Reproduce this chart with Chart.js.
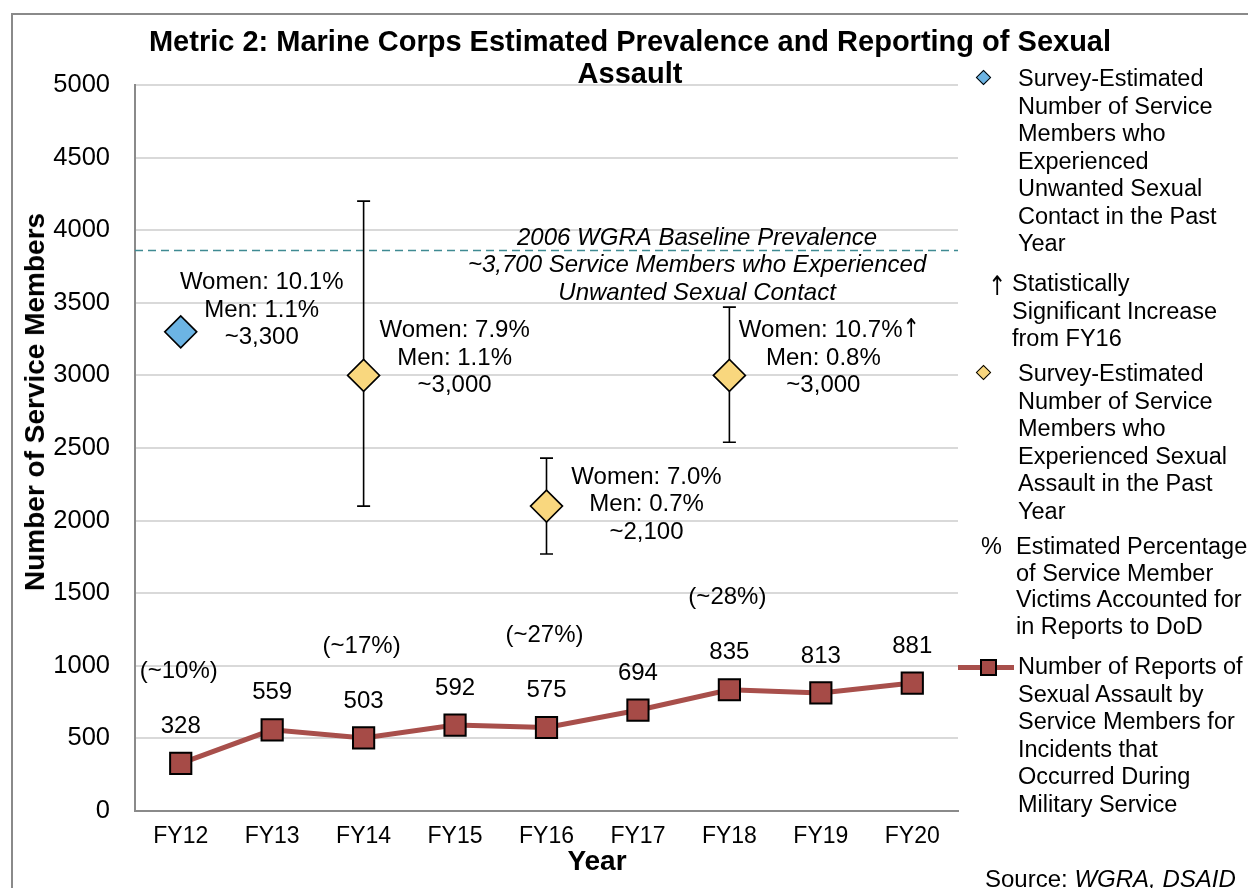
<!DOCTYPE html>
<html>
<head>
<meta charset="utf-8">
<script src="https://cdn.jsdelivr.net/npm/chart.js@4.4.1/dist/chart.umd.min.js"></script>
<style>
  html, body { margin: 0; padding: 0; background: #fff; }
  body { width: 1248px; height: 888px; overflow: hidden; position: relative; font-family: "Liberation Sans", Arial, sans-serif; color: #000; }
  #frame { position: absolute; left: 11px; top: 13px; width: 1400px; height: 1000px; border: 2px solid #8a8a8a; box-sizing: border-box; }
  #wrap { position: absolute; left: 0; top: 0; width: 1248px; height: 888px; }
  .t { position: absolute; white-space: nowrap; }
  #title { left: 0; width: 1260px; top: 25px; text-align: center; font-weight: bold; font-size: 29px; line-height: 32px; }
  #ytitle { left: 35px; top: 402px; transform: translate(-50%, -50%) rotate(-90deg); font-weight: bold; font-size: 28px; }
  #xtitle { left: 597px; top: 861px; transform: translate(-50%, -50%); font-weight: bold; font-size: 28px; }
  .leg { position: absolute; font-size: 23.5px; line-height: 27.5px; white-space: nowrap; }
  .arr { position: absolute; font-family: "DejaVu Sans", sans-serif; font-size: 27px; line-height: 27.5px; transform: scaleX(0.8); }
  .dia { position: absolute; width: 9px; height: 9px; border: 1.5px solid #000; transform: rotate(45deg); }
  #source { left: 985px; top: 865px; font-size: 24px; }
</style>
</head>
<body>
<div id="frame"></div>
<div id="wrap"><canvas id="c" width="1248" height="888"></canvas></div>

<div class="t" id="title">Metric 2: Marine Corps Estimated Prevalence and Reporting of Sexual<br>Assault</div>
<div class="t" id="ytitle">Number of Service Members</div>
<div class="t" id="xtitle">Year</div>

<div class="dia" style="left:978px; top:72px; background:#6CB4E4;"></div>
<div class="leg" style="left:1018px; top:65px;">Survey-Estimated<br>Number of Service<br>Members who<br>Experienced<br>Unwanted Sexual<br>Contact in the Past<br>Year</div>

<div class="arr" style="left:986px; top:272px;">↑</div>
<div class="leg" style="left:1012px; top:270px;">Statistically<br>Significant Increase<br>from FY16</div>

<div class="dia" style="left:978px; top:367px; background:#F9D77E;"></div>
<div class="leg" style="left:1018px; top:360px;">Survey-Estimated<br>Number of Service<br>Members who<br>Experienced Sexual<br>Assault in the Past<br>Year</div>

<div class="leg" style="left:981px; top:533px;">%</div>
<div class="leg" style="left:1016px; top:533px; line-height:26.7px;">Estimated Percentage<br>of Service Member<br>Victims Accounted for<br>in Reports to DoD</div>

<div style="position:absolute; left:958px; top:665px; width:56px; height:5px; background:#A84F4B;"></div>
<div style="position:absolute; left:980px; top:659px; width:13px; height:13px; background:#A64B47; border:2px solid #000; box-sizing:content-box;"></div>
<div class="leg" style="left:1018px; top:653px;">Number of Reports of<br>Sexual Assault by<br>Service Members for<br>Incidents that<br>Occurred During<br>Military Service</div>

<div class="t" id="source">Source: <i>WGRA, DSAID</i></div>

<script>
// ---- data ----
const years = ['FY12','FY13','FY14','FY15','FY16','FY17','FY18','FY19','FY20'];
const reports = [328, 559, 503, 592, 575, 694, 835, 813, 881];
const contactEstimate = [3300, null, null, null, null, null, null, null, null];
const assaultEstimate = [null, null, 3000, null, 2100, null, 3000, null, null];
const assaultLow  = [null, null, 2100, null, 1770, null, 2540, null, null];
const assaultHigh = [null, null, 4200, null, 2430, null, 3470, null, null];
const pctLabels = ['(~10%)', null, '(~17%)', null, '(~27%)', null, '(~28%)', null, null];
const surveyNotes = [
  ['Women: 10.1%', 'Men: 1.1%', '~3,300'], null,
  ['Women: 7.9%', 'Men: 1.1%', '~3,000'], null,
  ['Women: 7.0%', 'Men: 0.7%', '~2,100'], null,
  ['Women: 10.7%\u2191', 'Men: 0.8%', '~3,000'], null, null
];
const baselineValue = 3860;
const baselineText = ['2006 WGRA Baseline Prevalence', '~3,700 Service Members who Experienced', 'Unwanted Sexual Contact'];
const yTicksMax = 5000, yStep = 500;

// ---- styling offsets for annotation placement (px relative to points) ----
const noteOffsets = {0: [81, -49], 2: [91, -45], 4: [100, -29], 6: [94, -45]};
const FONT = '"Liberation Sans", Arial, sans-serif';
const ARROW = '\u2191';

function drawMixed(ctx, text, cx, cy, shiftArrowLine) {
  if (text.indexOf(ARROW) < 0) { ctx.fillText(text, cx, cy); return; }
  const parts = text.split(ARROW);
  const base = ctx.font;
  const arrowFont = '26px "DejaVu Sans", sans-serif';
  const w1 = ctx.measureText(parts[0]).width;
  ctx.font = arrowFont;
  const wa = ctx.measureText(ARROW).width * 0.8;
  ctx.font = base;
  const left = cx + 6 - (w1 + wa) / 2;
  ctx.textAlign = 'left';
  ctx.fillText(parts[0], left, cy);
  ctx.font = arrowFont;
  ctx.save();
  ctx.translate(left + w1, cy);
  ctx.scale(0.8, 1);
  ctx.fillText(ARROW, 0, 0);
  ctx.restore();
  ctx.font = base;
  ctx.textAlign = 'center';
}

const overlay = {
  id: 'overlay',
  beforeDatasetsDraw(chart) {
    const {ctx, scales: {x, y}, chartArea} = chart;
    ctx.save();
    const by = y.getPixelForValue(baselineValue);
    ctx.strokeStyle = '#3F8A92';
    ctx.lineWidth = 1.6;
    ctx.setLineDash([8, 5]);
    ctx.beginPath();
    ctx.moveTo(chartArea.left, by);
    ctx.lineTo(chartArea.right, by);
    ctx.stroke();
    ctx.setLineDash([]);
    ctx.strokeStyle = '#000';
    ctx.lineWidth = 1.6;
    for (let i = 0; i < years.length; i++) {
      if (assaultLow[i] == null) continue;
      const px = x.getPixelForValue(i);
      const lo = y.getPixelForValue(assaultLow[i]);
      const hi = y.getPixelForValue(assaultHigh[i]);
      ctx.beginPath();
      ctx.moveTo(px, lo); ctx.lineTo(px, hi);
      ctx.moveTo(px - 6.5, lo); ctx.lineTo(px + 6.5, lo);
      ctx.moveTo(px - 6.5, hi); ctx.lineTo(px + 6.5, hi);
      ctx.stroke();
    }
    ctx.restore();
  },
  afterDatasetsDraw(chart) {
    const {ctx, scales: {x, y}, chartArea} = chart;
    ctx.save();
    ctx.fillStyle = '#000';
    ctx.textAlign = 'center';
    ctx.textBaseline = 'middle';
    const by = y.getPixelForValue(baselineValue);
    const bx = chartArea.left + (chartArea.right - chartArea.left) * 0.683;
    ctx.font = 'italic 24px ' + FONT;
    baselineText.forEach((t, k) => ctx.fillText(t, bx, by - 12.5 + k * 27.5));
    ctx.font = '24px ' + FONT;
    for (let i = 0; i < years.length; i++) {
      const px = x.getPixelForValue(i);
      const py = y.getPixelForValue(reports[i]);
      ctx.fillText(String(reports[i]), px, py - 37);
      if (pctLabels[i]) ctx.fillText(pctLabels[i], px - 2, py - 92);
      if (surveyNotes[i]) {
        const v = contactEstimate[i] != null ? contactEstimate[i] : assaultEstimate[i];
        const sy = y.getPixelForValue(v);
        const off = noteOffsets[i];
        surveyNotes[i].forEach((t, k) => drawMixed(ctx, t, px + off[0], sy + off[1] + k * 27.5));
      }
    }
    ctx.restore();
  }
};

new Chart(document.getElementById('c'), {
  type: 'line',
  data: {
    labels: years,
    datasets: [
      {
        label: 'Reports',
        data: reports,
        borderColor: '#A84F4B',
        borderWidth: 5,
        tension: 0,
        pointStyle: 'rect',
        pointRadius: 15,
        pointHoverRadius: 15,
        pointBackgroundColor: '#A64B47',
        pointBorderColor: '#000',
        pointBorderWidth: 2,
        order: 1
      },
      {
        label: 'Contact',
        data: contactEstimate,
        showLine: false,
        pointStyle: 'rectRot',
        pointRadius: 16,
        pointBackgroundColor: '#6CB4E4',
        pointBorderColor: '#000',
        pointBorderWidth: 1.6,
        order: 0
      },
      {
        label: 'Assault',
        data: assaultEstimate,
        showLine: false,
        pointStyle: 'rectRot',
        pointRadius: 16,
        pointBackgroundColor: '#F9D77E',
        pointBorderColor: '#000',
        pointBorderWidth: 1.6,
        order: 0
      }
    ]
  },
  options: {
    responsive: false,
    animation: false,
    events: [],
    layout: { padding: { left: 0, top: 85, right: 290, bottom: 0 } },
    plugins: { legend: { display: false }, tooltip: { enabled: false }, title: { display: false } },
    scales: {
      x: {
        offset: true,
        grid: { display: false, drawTicks: false },
        border: { display: true, color: '#8a8a8a', width: 2 },
        ticks: { color: '#000', font: { family: FONT, size: 23 }, padding: 12, maxRotation: 0 },
        afterFit(s) { s.height = 77; }
      },
      y: {
        min: 0, max: yTicksMax,
        grid: { color: '#d9d9d9', lineWidth: 2, drawTicks: false },
        border: { display: true, color: '#8a8a8a', width: 2 },
        ticks: { stepSize: yStep, color: '#000', font: { family: FONT, size: 25.5 }, padding: 25, callback: v => String(v) },
        afterFit(s) { s.width = 135; }
      }
    }
  },
  plugins: [overlay]
});
</script>
</body>
</html>
